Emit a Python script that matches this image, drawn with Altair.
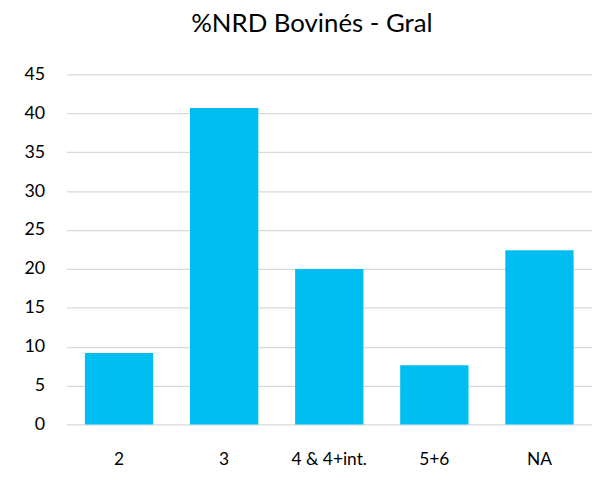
import altair as alt
import pandas as pd

categories = ["2", "3", "4 & 4+int.", "5+6", "NA"]
values = [9.2, 40.7, 20.0, 7.6, 22.4]

df = pd.DataFrame({"cat": categories, "val": values})

chart = alt.Chart(df).mark_bar(color="#00BEF2").encode(
    x=alt.X("cat:N", sort=categories, title=None,
            scale=alt.Scale(paddingInner=0.35, paddingOuter=0.175),
            axis=alt.Axis(labelAngle=0, labelFontSize=17.5, labelFont="Lato",
                          labelColor="#000000", ticks=False, domain=False,
                          labelPadding=26)),
    y=alt.Y("val:Q", title=None,
            scale=alt.Scale(domain=[0, 45]),
            axis=alt.Axis(values=list(range(0, 50, 5)), labelFontSize=18, labelFont="Lato",
                          labelColor="#000000", ticks=False, domain=False,
                          gridColor="#d9d9d9", gridWidth=1.3, labelPadding=22)),
).properties(
    width=530,
    height=353,
    title=alt.TitleParams("%NRD Bovinés - Gral", fontSize=26, font="Lato",
                          fontWeight="normal", color="#000000", anchor="middle",
                          dx=-17.5, offset=29),
    padding={"left": 59, "top": 65, "right": 0, "bottom": 60},
    autosize=alt.AutoSizeParams(type="none"),
).configure_view(stroke=None)

chart.save("out.html", embed_options={"renderer": "svg", "actions": False})
